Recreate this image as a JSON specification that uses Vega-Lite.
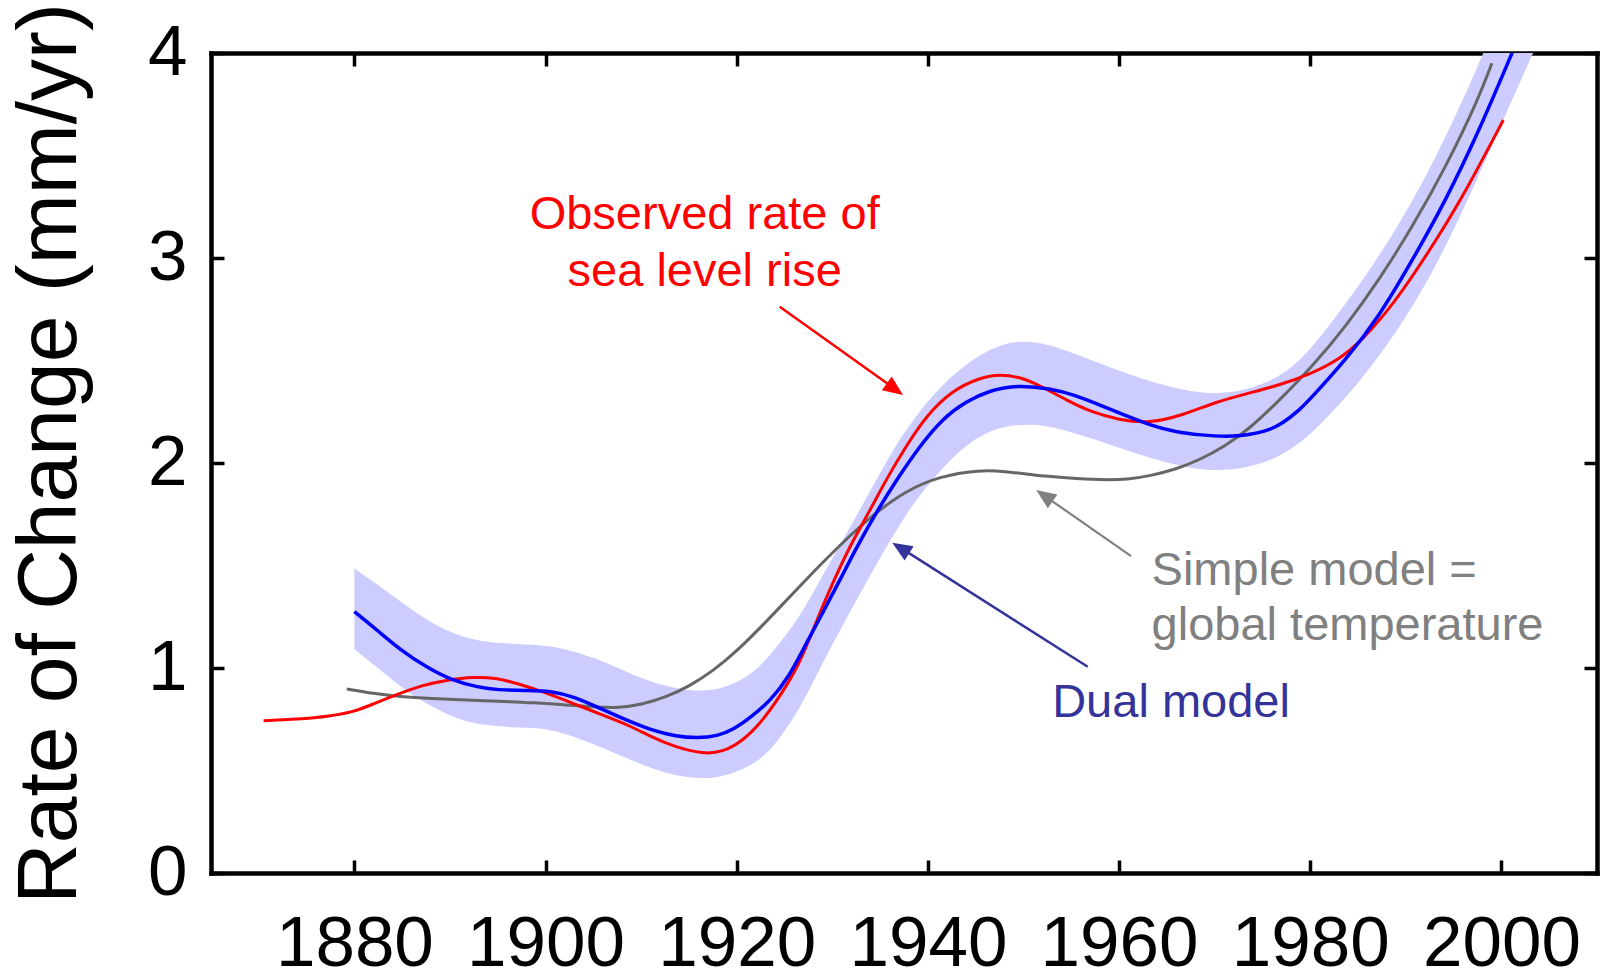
{
  "$schema": "https://vega.github.io/schema/vega-lite/v6.json",
  "width": 1386,
  "height": 820,
  "autosize": "none",
  "padding": {"left": 211, "top": 53, "right": 3, "bottom": 103},
  "background": "white",
  "config": {
    "font": "Liberation Sans",
    "view": {"stroke": null},
    "axis": {
      "grid": false,
      "domainColor": "#000000",
      "domainWidth": 4.5,
      "domainCap": "square",
      "tickColor": "#000000",
      "tickWidth": 3.5,
      "tickSize": -13,
      "labelFont": "Liberation Sans",
      "labelFontSize": 71,
      "labelColor": "#000000",
      "labelFlush": false,
      "labelOverlap": false,
      "labelBound": false
    }
  },
  "resolve": {"axis": {"x": "independent", "y": "independent"}},
  "datasets": {
    "observed": [
      {"year": 1870.5, "rate": 0.743}, {"year": 1874, "rate": 0.750}, {"year": 1877.5, "rate": 0.765},
      {"year": 1880, "rate": 0.787}, {"year": 1882, "rate": 0.825}, {"year": 1884.8, "rate": 0.877},
      {"year": 1887, "rate": 0.915}, {"year": 1889.6, "rate": 0.941}, {"year": 1892.5, "rate": 0.958},
      {"year": 1895, "rate": 0.950}, {"year": 1897, "rate": 0.925}, {"year": 1900, "rate": 0.880},
      {"year": 1903, "rate": 0.825}, {"year": 1906, "rate": 0.770}, {"year": 1909, "rate": 0.715},
      {"year": 1911, "rate": 0.665}, {"year": 1913.5, "rate": 0.615}, {"year": 1916.5, "rate": 0.580},
      {"year": 1918.5, "rate": 0.590}, {"year": 1920.5, "rate": 0.640}, {"year": 1922.5, "rate": 0.730},
      {"year": 1924.5, "rate": 0.860}, {"year": 1926.6, "rate": 1.020}, {"year": 1928.5, "rate": 1.250},
      {"year": 1930.2, "rate": 1.430}, {"year": 1931.8, "rate": 1.592}, {"year": 1933.9, "rate": 1.765},
      {"year": 1935.6, "rate": 1.917}, {"year": 1937.7, "rate": 2.080}, {"year": 1939.8, "rate": 2.230},
      {"year": 1942.6, "rate": 2.356}, {"year": 1945.4, "rate": 2.415}, {"year": 1947.5, "rate": 2.435},
      {"year": 1950, "rate": 2.415}, {"year": 1952, "rate": 2.370}, {"year": 1954.5, "rate": 2.307},
      {"year": 1957, "rate": 2.250}, {"year": 1960, "rate": 2.210}, {"year": 1963.2, "rate": 2.193},
      {"year": 1966.7, "rate": 2.234}, {"year": 1970.2, "rate": 2.299}, {"year": 1973.5, "rate": 2.340},
      {"year": 1976.8, "rate": 2.380}, {"year": 1980.2, "rate": 2.438}, {"year": 1982.9, "rate": 2.502},
      {"year": 1985.3, "rate": 2.592}, {"year": 1988.8, "rate": 2.779}, {"year": 1992.3, "rate": 3.023},
      {"year": 1995.8, "rate": 3.283}, {"year": 2000.2, "rate": 3.673}
    ],
    "dual": [
      {"year": 1880, "rate": 1.275}, {"year": 1882.5, "rate": 1.180}, {"year": 1884.8, "rate": 1.088},
      {"year": 1887.5, "rate": 1.005}, {"year": 1890.1, "rate": 0.941}, {"year": 1893, "rate": 0.905},
      {"year": 1895, "rate": 0.893}, {"year": 1898, "rate": 0.890}, {"year": 1900.5, "rate": 0.889},
      {"year": 1903, "rate": 0.860}, {"year": 1905.7, "rate": 0.803}, {"year": 1908.5, "rate": 0.745},
      {"year": 1911, "rate": 0.698}, {"year": 1913.5, "rate": 0.668}, {"year": 1915.9, "rate": 0.657},
      {"year": 1918, "rate": 0.668}, {"year": 1919.6, "rate": 0.698}, {"year": 1921.5, "rate": 0.760},
      {"year": 1923.6, "rate": 0.844}, {"year": 1925.5, "rate": 0.960}, {"year": 1927.1, "rate": 1.104},
      {"year": 1929, "rate": 1.270}, {"year": 1930.8, "rate": 1.429}, {"year": 1932.5, "rate": 1.585},
      {"year": 1934.6, "rate": 1.760}, {"year": 1936.9, "rate": 1.930}, {"year": 1939.1, "rate": 2.080},
      {"year": 1941.6, "rate": 2.220}, {"year": 1944, "rate": 2.300}, {"year": 1946.5, "rate": 2.355},
      {"year": 1949.3, "rate": 2.380}, {"year": 1952.8, "rate": 2.364}, {"year": 1955.5, "rate": 2.330},
      {"year": 1958, "rate": 2.283}, {"year": 1960.5, "rate": 2.235}, {"year": 1963.2, "rate": 2.185},
      {"year": 1966, "rate": 2.150}, {"year": 1968.4, "rate": 2.137}, {"year": 1971.9, "rate": 2.125},
      {"year": 1975.4, "rate": 2.153}, {"year": 1977, "rate": 2.190}, {"year": 1978.9, "rate": 2.259},
      {"year": 1980.2, "rate": 2.323}, {"year": 1983.7, "rate": 2.502}, {"year": 1987.2, "rate": 2.714},
      {"year": 1990.7, "rate": 2.990}, {"year": 1994.2, "rate": 3.283}, {"year": 1997.7, "rate": 3.624},
      {"year": 2001.2, "rate": 4.010}
    ],
    "simple": [
      {"year": 1879.2, "rate": 0.898}, {"year": 1882, "rate": 0.875}, {"year": 1884.8, "rate": 0.860},
      {"year": 1888, "rate": 0.851}, {"year": 1891.8, "rate": 0.844}, {"year": 1895, "rate": 0.838},
      {"year": 1898.7, "rate": 0.831}, {"year": 1902, "rate": 0.820}, {"year": 1905.7, "rate": 0.808},
      {"year": 1907.5, "rate": 0.806}, {"year": 1910, "rate": 0.820}, {"year": 1912.7, "rate": 0.860},
      {"year": 1915, "rate": 0.910}, {"year": 1917.5, "rate": 0.985}, {"year": 1920, "rate": 1.080},
      {"year": 1923.8, "rate": 1.260}, {"year": 1927.3, "rate": 1.435}, {"year": 1930.8, "rate": 1.600},
      {"year": 1934.3, "rate": 1.750}, {"year": 1937.7, "rate": 1.865}, {"year": 1941.2, "rate": 1.935},
      {"year": 1945.4, "rate": 1.966}, {"year": 1948, "rate": 1.960}, {"year": 1951, "rate": 1.941},
      {"year": 1954.5, "rate": 1.928}, {"year": 1958, "rate": 1.917}, {"year": 1961, "rate": 1.920},
      {"year": 1963.2, "rate": 1.937}, {"year": 1966, "rate": 1.970}, {"year": 1968.4, "rate": 2.015},
      {"year": 1971, "rate": 2.080}, {"year": 1973.6, "rate": 2.165}, {"year": 1976.8, "rate": 2.307},
      {"year": 1980.2, "rate": 2.470}, {"year": 1983.7, "rate": 2.665}, {"year": 1987.2, "rate": 2.893},
      {"year": 1990.7, "rate": 3.153}, {"year": 1994.2, "rate": 3.445}, {"year": 1997.7, "rate": 3.787},
      {"year": 1999.0, "rate": 3.950}
    ],
    "band": [
      {"year": 1880, "lo": 1.091, "hi": 1.486}, {"year": 1882.5, "lo": 1.000, "hi": 1.405},
      {"year": 1884.8, "lo": 0.909, "hi": 1.325}, {"year": 1887.5, "lo": 0.825, "hi": 1.235},
      {"year": 1890.1, "lo": 0.765, "hi": 1.172}, {"year": 1892.5, "lo": 0.728, "hi": 1.135},
      {"year": 1895.3, "lo": 0.714, "hi": 1.120}, {"year": 1898, "lo": 0.708, "hi": 1.115},
      {"year": 1900.5, "lo": 0.702, "hi": 1.108}, {"year": 1903, "lo": 0.665, "hi": 1.080},
      {"year": 1905.7, "lo": 0.616, "hi": 1.039}, {"year": 1908.5, "lo": 0.560, "hi": 0.980},
      {"year": 1911, "lo": 0.511, "hi": 0.933}, {"year": 1913.5, "lo": 0.475, "hi": 0.900},
      {"year": 1916.6, "lo": 0.457, "hi": 0.884}, {"year": 1919, "lo": 0.475, "hi": 0.905},
      {"year": 1921.8, "lo": 0.527, "hi": 0.974}, {"year": 1924, "lo": 0.620, "hi": 1.090},
      {"year": 1926.6, "lo": 0.800, "hi": 1.250}, {"year": 1928.5, "lo": 0.980, "hi": 1.410},
      {"year": 1930.8, "lo": 1.185, "hi": 1.600}, {"year": 1933.6, "lo": 1.420, "hi": 1.830},
      {"year": 1936, "lo": 1.620, "hi": 2.040}, {"year": 1938.4, "lo": 1.800, "hi": 2.210},
      {"year": 1941, "lo": 1.950, "hi": 2.360}, {"year": 1944.1, "lo": 2.100, "hi": 2.490},
      {"year": 1947.5, "lo": 2.180, "hi": 2.584}, {"year": 1951, "lo": 2.194, "hi": 2.600},
      {"year": 1954.5, "lo": 2.161, "hi": 2.551}, {"year": 1959.7, "lo": 2.080, "hi": 2.454},
      {"year": 1964.9, "lo": 1.998, "hi": 2.372}, {"year": 1970.2, "lo": 1.950, "hi": 2.323},
      {"year": 1975.4, "lo": 1.995, "hi": 2.380}, {"year": 1978.9, "lo": 2.090, "hi": 2.490},
      {"year": 1982, "lo": 2.230, "hi": 2.670},
      {"year": 1985.5, "lo": 2.415, "hi": 2.890}, {"year": 1989, "lo": 2.635, "hi": 3.140},
      {"year": 1992.5, "lo": 2.900, "hi": 3.430}, {"year": 1996, "lo": 3.230, "hi": 3.770},
      {"year": 1999.5, "lo": 3.600, "hi": 4.150}, {"year": 2003.5, "lo": 4.020, "hi": 4.600}
    ]
  },
  "layer": [
    {
      "data": {"name": "band"},
      "mark": {"type": "area", "color": "#ccccff", "opacity": 1, "interpolate": "basis", "clip": true},
      "encoding": {
        "x": {
          "field": "year", "type": "quantitative",
          "scale": {"domain": [1865, 2010], "nice": false, "zero": false},
          "axis": {"orient": "bottom", "values": [1880, 1900, 1920, 1940, 1960, 1980, 2000], "format": "d", "title": null, "labelPadding": 49}
        },
        "y": {
          "field": "lo", "type": "quantitative",
          "scale": {"domain": [0, 4], "nice": false, "zero": false},
          "axis": {
            "orient": "left", "values": [0, 1, 2, 3, 4], "format": "d", "labelPadding": 37,
            "title": "Rate of Change (mm/yr)", "titleFont": "Liberation Sans", "titleFontSize": 84,
            "titleFontWeight": "normal", "titleColor": "#000000", "titleAngle": 270,
            "titleX": -136, "titleY": 400, "titleAlign": "center", "titleBaseline": "alphabetic"
          }
        },
        "y2": {"field": "hi"}
      }
    },
    {
      "data": {"name": "simple"},
      "mark": {"type": "line", "color": "#666666", "strokeWidth": 3, "interpolate": "basis", "clip": true},
      "encoding": {
        "x": {
          "field": "year", "type": "quantitative",
          "axis": {"orient": "top", "values": [1880, 1900, 1920, 1940, 1960, 1980, 2000], "labels": false, "title": null}
        },
        "y": {
          "field": "rate", "type": "quantitative",
          "axis": {"orient": "right", "values": [0, 1, 2, 3, 4], "labels": false, "title": null}
        }
      }
    },
    {
      "data": {"name": "observed"},
      "mark": {"type": "line", "color": "#ff0000", "strokeWidth": 3, "interpolate": "basis", "clip": true},
      "encoding": {
        "x": {"field": "year", "type": "quantitative", "axis": null},
        "y": {"field": "rate", "type": "quantitative", "axis": null}
      }
    },
    {
      "data": {"name": "dual"},
      "mark": {"type": "line", "color": "#0000ff", "strokeWidth": 3.5, "interpolate": "basis", "clip": true},
      "encoding": {
        "x": {"field": "year", "type": "quantitative", "axis": null},
        "y": {"field": "rate", "type": "quantitative", "axis": null}
      }
    },
    {
      "data": {"values": [{}]},
      "mark": {"type": "rule", "color": "#ff0000", "strokeWidth": 2.5},
      "encoding": {
        "x": {"datum": 1924.5, "type": "quantitative", "axis": null},
        "y": {"datum": 2.762, "type": "quantitative", "axis": null},
        "x2": {"datum": 1936.6},
        "y2": {"datum": 2.36}
      }
    },
    {
      "data": {"values": [{}]},
      "mark": {"type": "point", "shape": "M0,0L0.42,1L-0.42,1Z", "filled": true, "color": "#ff0000", "opacity": 1, "size": 1600, "angle": 125.6, "strokeWidth": 0},
      "encoding": {
        "x": {"datum": 1937.4, "type": "quantitative", "axis": null},
        "y": {"datum": 2.332, "type": "quantitative", "axis": null}
      }
    },
    {
      "data": {"values": [{}]},
      "mark": {"type": "rule", "color": "#808080", "strokeWidth": 2.2},
      "encoding": {
        "x": {"datum": 1961.26, "type": "quantitative", "axis": null},
        "y": {"datum": 1.546, "type": "quantitative", "axis": null},
        "x2": {"datum": 1952.2},
        "y2": {"datum": 1.84}
      }
    },
    {
      "data": {"values": [{}]},
      "mark": {"type": "point", "shape": "M0,0L0.42,1L-0.42,1Z", "filled": true, "color": "#808080", "opacity": 1, "size": 1600, "angle": 304.8, "strokeWidth": 0},
      "encoding": {
        "x": {"datum": 1951.33, "type": "quantitative", "axis": null},
        "y": {"datum": 1.868, "type": "quantitative", "axis": null}
      }
    },
    {
      "data": {"values": [{}]},
      "mark": {"type": "rule", "color": "#333399", "strokeWidth": 2.5},
      "encoding": {
        "x": {"datum": 1956.72, "type": "quantitative", "axis": null},
        "y": {"datum": 1.006, "type": "quantitative", "axis": null},
        "x2": {"datum": 1937.2},
        "y2": {"datum": 1.585}
      }
    },
    {
      "data": {"values": [{}]},
      "mark": {"type": "point", "shape": "M0,0L0.42,1L-0.42,1Z", "filled": true, "color": "#333399", "opacity": 1, "size": 1600, "angle": 302.4, "strokeWidth": 0},
      "encoding": {
        "x": {"datum": 1936.27, "type": "quantitative", "axis": null},
        "y": {"datum": 1.611, "type": "quantitative", "axis": null}
      }
    },
    {
      "data": {"values": [{}]},
      "mark": {"type": "text", "text": ["Observed rate of", "sea level rise"], "font": "Liberation Sans", "fontSize": 47, "color": "#ff0000", "align": "center", "baseline": "alphabetic", "lineHeight": 57},
      "encoding": {
        "x": {"datum": 1916.65, "type": "quantitative", "axis": null},
        "y": {"datum": 3.141, "type": "quantitative", "axis": null}
      }
    },
    {
      "data": {"values": [{}]},
      "mark": {"type": "text", "text": ["Simple model =", "global temperature"], "font": "Liberation Sans", "fontSize": 47, "color": "#808080", "align": "left", "baseline": "alphabetic", "lineHeight": 55},
      "encoding": {
        "x": {"datum": 1963.4, "type": "quantitative", "axis": null},
        "y": {"datum": 1.405, "type": "quantitative", "axis": null}
      }
    },
    {
      "data": {"values": [{}]},
      "mark": {"type": "text", "text": "Dual model", "font": "Liberation Sans", "fontSize": 47, "color": "#333399", "align": "left", "baseline": "alphabetic"},
      "encoding": {
        "x": {"datum": 1953.0, "type": "quantitative", "axis": null},
        "y": {"datum": 0.762, "type": "quantitative", "axis": null}
      }
    }
  ]
}
